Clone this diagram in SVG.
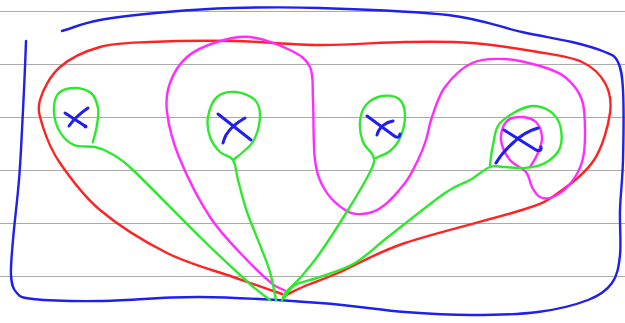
<svg xmlns="http://www.w3.org/2000/svg" width="625" height="323" viewBox="0 0 625 323">
<style>
.rule{stroke:#ababab;stroke-width:1.2}
.s{fill:none;stroke-width:2.4;stroke-linecap:round;stroke-linejoin:round}
.blue{stroke:#1f1ff0}
.red{stroke:#ff2222}
.mag{stroke:#ff2bff}
.grn{stroke:#2ee82e}
.x{fill:none;stroke:#1f1ff0;stroke-width:3;stroke-linecap:round;stroke-linejoin:round}
</style>
<rect width="625" height="323" fill="#ffffff"/>
<g id="rules">
<line class="rule" x1="0" y1="11.5" x2="625" y2="11.5"/>
<line class="rule" x1="0" y1="64.5" x2="625" y2="64.5"/>
<line class="rule" x1="0" y1="117.5" x2="625" y2="117.5"/>
<line class="rule" x1="0" y1="170.5" x2="625" y2="170.5"/>
<line class="rule" x1="0" y1="223.5" x2="625" y2="223.5"/>
<line class="rule" x1="0" y1="276.5" x2="625" y2="276.5"/>
</g>
<g id="outer-blue">
<path class="s blue" d="M26,41 C25,71 23.2,106.8 22,130 S20.5,161.7 19,180 S14.3,224.2 13,240 S10.5,266.3 11,275 S12.3,288 16,292 S19,297.5 33,299 S72.2,301.3 100,301 S163.3,296.7 200,297 S285.8,300.5 320,303 S379.7,310 405,312 S449.8,315 472,315 S518.7,314.5 538,312 S575.7,304.8 588,300 S606.7,290.5 612,283 S618.7,267.2 620,255 S619.5,225.8 620,210 S622.5,180 623,160 S623.8,106.3 623,90 S621,68.3 618,62 S612.7,55.3 605,52 S585.8,45.3 572,42 S542.7,36.5 522,32 S481.7,19 448,15 S355.8,9.2 320,8 S258.5,7.3 233,8 S189.2,10 167,12 S117.5,16.8 100,20 S74.7,27.3 62,31"/>
</g>
<g id="red-region">
<path class="s red" d="M282,294 C265.7,288.3 252.2,283.8 233,277 S189.2,264.2 167,253 S117.8,225 100,210 S69.5,176.8 60,163 S46.3,137.5 43,127 S37.2,110 40,100 S50,75.8 60,67 S85,51.2 100,47 S127.8,43 150,42 S204.7,40.5 233,41 S291.3,44.8 320,45 S379.7,42.3 405,42 S449.8,41.3 472,43 S519.7,48.8 538,52 S570.8,56.8 582,62 S600.3,74.5 605,83 S611.8,100.2 610,113 S602.7,146.7 594,160 S570,184.7 558,193 S547.5,201.7 522,210 S435.7,232.5 405,243 S354.7,265.8 338,273 S314,282.2 305,286 S291,292.7 284,296"/>
</g>
<g id="magenta-region">
<path class="s mag" d="M286,291 L275,286 C268.5,280.8 257.8,271.5 247,260 S221.3,234.2 210,217 S186.2,174.5 179,157 S168.5,124.3 167,112 S166.7,92.2 170,83 S179.2,63.8 187,57 S206.5,45.3 217,42 S237.8,35.7 250,37 S280,45 290,50 S306.2,58.7 310,67 S312.2,84.5 313,100 S313,145 315,160 S320,181.7 325,190 S338.8,206 345,210 S355.8,214.5 362,214 S374.8,212.2 382,207 S399,190.8 405,183 S414.5,167.2 418,160 S423.7,147.2 426,140 S428.8,125.8 432,117 S438.3,96 445,87 S462,67.7 472,63 S493.7,58.5 505,59 S530,63 540,66 S558,71.3 565,77 S578.7,90.3 582,100 S585,124.7 585,135 S584.5,153.8 582,162 S574.8,178.2 570,184 S558,194.8 553,197 S543.5,198.7 540,197 S534.3,191.2 532,187 S529.7,176.5 526,172 S514.2,165.3 510,160 S501.7,146.3 501,140 S502.8,125.8 506,122 S515,117 520,117 S532.3,118.5 536,122 S541.8,132.5 542,138 S539,150.2 537,155 S532.3,163 530,167"/>
</g>
<g id="node-1">
<path class="s grn" d="M93,142 C94.3,136.3 96.2,130.7 97,125 S99,113.3 98,108 S95,96.3 91,93 S79.5,87.8 74,88 S61.3,90 58,94 S53.7,105.7 54,112 S56.7,126.5 60,132 S68.2,142.5 74,145 S89,145.7 95,147 S103.7,149.2 110,153 S118,156 133,170 S180.5,218 200,237 S238.3,273.5 250,284 S263.3,294.7 270,300"/>
<path class="x" d="M65,113 L85,126"/>
<circle cx="85.5" cy="126.5" r="2" fill="#1f1ff0"/>
<path class="x" d="M88,108 Q76,116 69,126"/>
</g>
<g id="node-2">
<path class="s grn" d="M233,160 C236.3,157.3 239.5,155.3 243,152 S251.2,145.8 254,140 S259.8,123.7 260,117 S259,104.2 255,100 S242.3,92.5 236,92 S221.7,92.8 217,97 S209.2,110.3 208,117 S208,131.2 210,137 S216.2,148.2 220,152 S230,155.3 233,160 S235.7,171.3 238,180 S243.3,201.2 247,212 S256.2,235 260,245 S267.3,262.8 270,272 S274,290.7 276,300"/>
<path class="x" d="M218,114 L251,140"/>
<path class="x" d="M245,118 C236,123 229,130 226,135 Q224,139 223,143"/>
</g>
<g id="node-3">
<path class="s grn" d="M376,158 C380.7,155.7 386,154.3 390,151 S397.5,144 400,138 S405.2,121.5 405,115 S402.8,102.2 399,99 S387.5,95 382,96 S369.7,100.7 366,105 S360.5,115.8 360,122 S361,136.7 363,142 S370.2,150.7 372,154 S374.7,158.3 374,162 S372.3,168 368,176 S356,197.2 348,210 S328,241.7 320,253 S305.7,271.5 300,278 S289,288.3 286,292 S283.3,297.3 282,300"/>
<path class="x" d="M367,116 L393,135 Q399,140 400,134"/>
<path class="x" d="M393,121 C386,122 379,127 377,135"/>
</g>
<g id="node-4">
<path class="s grn" d="M490,165 C491,158.3 491.3,152 493,145 S494.3,129.3 500,123 S519,109.2 527,107 S542.5,107 548,110 S558,118.7 560,125 S562.5,141.7 560,148 S550.8,159.7 545,163 S531.7,167.3 525,168 S510.8,167.2 505,167 S495.8,164.8 490,167 S477.5,175.7 470,180 S458.7,183.5 445,193 S403,225.3 388,237 S366.3,256.3 355,263 S330,273.3 320,277 S301,281.5 295,285 S287.7,293.7 284,298"/>
<path class="x" d="M504,130 L536,150 Q542,152 541,147"/>
<path class="x" d="M538,128 C528,131 520,136 514,142 C506,149 500,156 496,163"/>
</g>
</svg>
